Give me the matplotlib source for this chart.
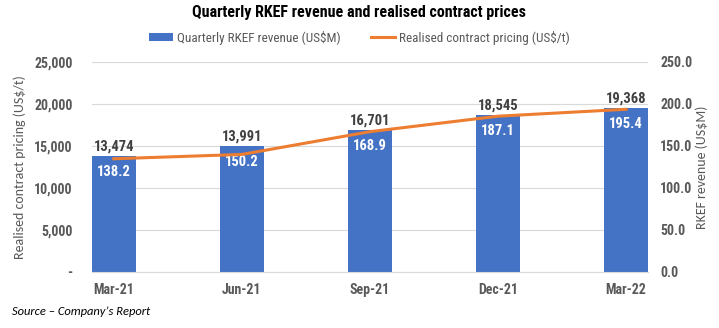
import matplotlib
matplotlib.use("Agg")
from matplotlib import pyplot as plt
from matplotlib.ticker import FuncFormatter

quarters = ["Mar-21", "Jun-21", "Sep-21", "Dec-21", "Mar-22"]
revenue = [138.2, 150.2, 168.9, 187.1, 195.4]          # US$M, bars
pricing = [13474, 13991, 16701, 18545, 19368]          # US$/t, line

blue = "#4472C4"
orange = "#ED7D31"
grey = "#595959"
narrow = ["Roboto Condensed", "Archivo Narrow", "Liberation Sans Narrow", "DejaVu Sans"]
calibri = ["Carlito", "Open Sans", "DejaVu Sans"]

fig = plt.figure(figsize=(7.19, 3.28), dpi=100)
ax = fig.add_axes([0.128, 0.171, 0.773, 0.64])
ax2 = ax.twinx()

x = list(range(len(quarters)))
w = 0.34

ax.set_zorder(ax2.get_zorder() + 1)
ax.patch.set_visible(False)

ax2.bar(x, revenue, width=w, color=blue, label="Quarterly RKEF revenue (US$M)", zorder=2)
ax.plot(x, pricing, color=orange, lw=2.2, label="Realised contract pricing (US$/t)", zorder=3)

ax.set_ylim(0, 25000)
ax2.set_ylim(0, 250)
ax.set_xlim(-w / 2, len(quarters) - 1 + w / 2)
ax.set_yticks(range(0, 25001, 5000))
ax2.set_yticks(range(0, 251, 50))
ax.yaxis.set_major_formatter(FuncFormatter(lambda v, p: "-" if v == 0 else f"{v:,.0f}"))
ax2.yaxis.set_major_formatter(FuncFormatter(lambda v, p: f"{v:.1f}"))

ax2.grid(axis="y", color="#D9D9D9", lw=0.8, zorder=0)
ax2.set_axisbelow(True)
for a in (ax, ax2):
    for s in a.spines.values():
        s.set_visible(False)
    a.tick_params(length=0, colors=grey, labelsize=10)
ax2.spines["bottom"].set_visible(True)
ax2.spines["bottom"].set_color("#D9D9D9")

ax.set_xticks(x)
ax.set_xticklabels(quarters, fontweight="bold", family=narrow)
ax.tick_params(axis="x", pad=8)
ax.tick_params(axis="y", pad=14)
ax2.tick_params(axis="y", pad=9)
for lab in ax.get_yticklabels() + ax2.get_yticklabels():
    lab.set_fontweight("bold")
    lab.set_family(narrow)

ax.set_ylabel("Realised contract pricing (US$/t)", color=grey, fontsize=10, labelpad=6,
              family=calibri)
ax2.set_ylabel("RKEF revenue (US$M)", color=grey, fontsize=10, labelpad=2, family=calibri)

for xi, r, p in zip(x, revenue, pricing):
    ax2.text(xi, r + 3, f"{p:,}", ha="center", va="bottom", color="#404040",
             fontsize=10.5, fontweight="bold", family=narrow)
    ax2.text(xi, r - 19, f"{r:.1f}", ha="center", va="center", color="white",
             fontsize=10.5, fontweight="bold", family=narrow, zorder=5)

fig.text(0.5, 0.962, "Quarterly RKEF revenue and realised contract prices", ha="center",
         va="center", fontsize=11.5, fontweight="bold", family=narrow)

h1, l1 = ax2.get_legend_handles_labels()
h2, l2 = ax.get_legend_handles_labels()
leg = fig.legend(h1 + h2, l1 + l2, loc="center", bbox_to_anchor=(0.5, 0.885), ncol=2,
                 frameon=False, handlelength=1.8, handleheight=0.5, handletextpad=0.3,
                 columnspacing=2.3, prop={"family": narrow, "size": 9.5})
for t in leg.get_texts():
    t.set_color(grey)

fig.text(0.017, 0.05, "Source \u2013 Company\u2019s Report", fontsize=9, style="italic",
         va="center", color="black", family=calibri)

fig.savefig("out.png", dpi=100)
